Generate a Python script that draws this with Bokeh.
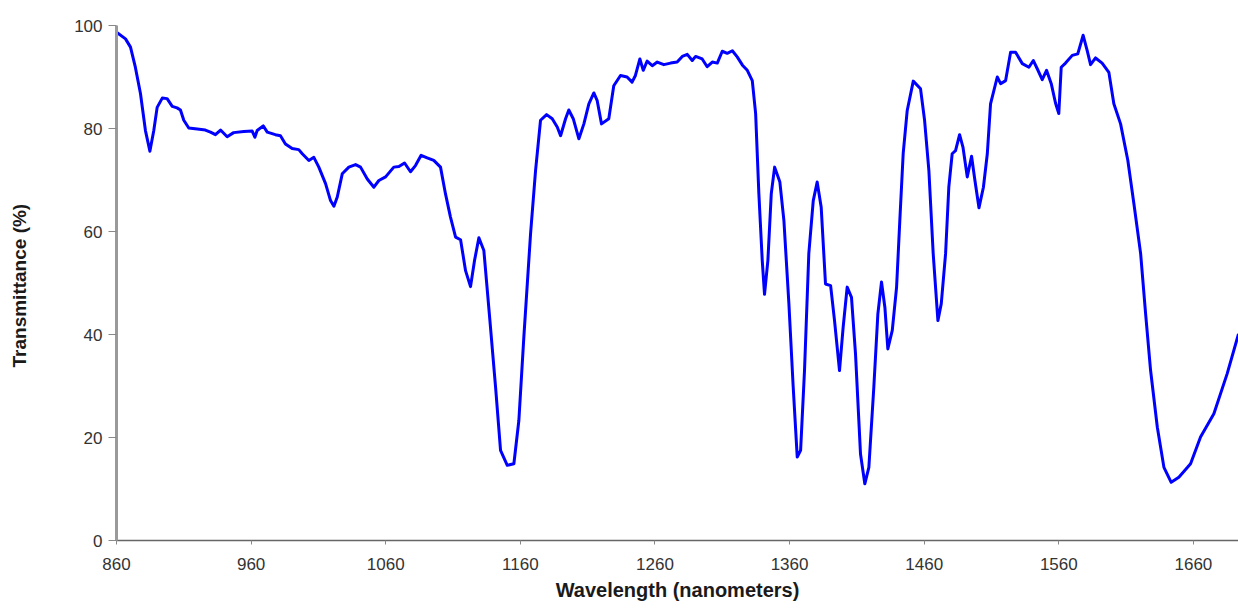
from bokeh.plotting import figure
from bokeh.models import Range1d, FixedTicker
from bokeh.embed import file_html
from bokeh.resources import INLINE

wavelength = [860, 866.7, 870.4, 874, 877.8, 881.5, 884.8, 887.7, 890.2, 894, 897.6, 901.4, 905, 907.5, 910, 913.7, 920, 926, 929.8, 933.5, 937.3, 942.2, 947, 954.6, 960.8, 962.8, 964.5, 969, 972, 978, 981.8, 985.5, 990.5, 995.4, 998, 1002.9, 1006.6, 1010.3, 1015.3, 1019, 1021.5, 1024, 1027.7, 1032.6, 1037.6, 1041.3, 1046.3, 1051.2, 1054.9, 1059.9, 1066, 1069.8, 1074, 1078.4, 1082.1, 1086.3, 1090.8, 1095.7, 1100.7, 1104.4, 1108.1, 1111.9, 1115.6, 1119.3, 1123, 1126, 1129.2, 1132.9, 1137.4, 1141.6, 1145.3, 1150.3, 1155.2, 1158.9, 1162.6, 1167.6, 1171.3, 1175, 1179.5, 1183.7, 1187.4, 1189.9, 1193.6, 1196, 1199.3, 1203.5, 1207.2, 1210.9, 1214.6, 1217.1, 1220.3, 1225.7, 1229.4, 1234.4, 1239.3, 1243, 1245.5, 1248.8, 1251.3, 1254.2, 1258, 1261.7, 1266.6, 1271.6, 1276.5, 1280.3, 1284, 1287.7, 1290.2, 1295.1, 1298.8, 1302.6, 1306.3, 1310, 1313.7, 1317.5, 1321.1, 1325, 1328.6, 1332.3, 1334.8, 1337.2, 1339.7, 1341.4, 1343.9, 1346.4, 1348.9, 1352.8, 1355.8, 1359.5, 1362.7, 1365.7, 1368.2, 1371.1, 1374.3, 1377.6, 1380.5, 1383.5, 1386.7, 1390.5, 1393.4, 1397.1, 1399.8, 1402.8, 1406, 1409, 1412.7, 1415.9, 1418.9, 1422.6, 1425.6, 1428.3, 1430.8, 1433, 1436.3, 1439.5, 1441.9, 1444.4, 1447.4, 1451.9, 1457.3, 1460.3, 1463.5, 1466.7, 1470.2, 1472.7, 1475.9, 1478.3, 1480.8, 1483.3, 1486.3, 1488.8, 1492, 1495.2, 1497.7, 1500.7, 1504, 1506.9, 1509.3, 1514.3, 1516.8, 1520.5, 1524.2, 1527.9, 1532.9, 1537.8, 1541.1, 1544, 1547.7, 1550.9, 1554.4, 1557.6, 1560, 1561.8, 1565, 1570, 1574.1, 1578.1, 1581.1, 1583.6, 1587.3, 1592.2, 1597.2, 1600.9, 1605.9, 1611.3, 1615.8, 1620.8, 1624.5, 1628.2, 1633.2, 1638.1, 1643.5, 1649.2, 1657.9, 1665.3, 1675.2, 1685.1, 1693.5]

transmittance = [98.7, 97.4, 95.8, 91.9, 86.8, 79.6, 75.6, 79.6, 84.1, 85.9, 85.8, 84.3, 84.0, 83.6, 81.6, 80.1, 79.9, 79.7, 79.3, 78.8, 79.7, 78.4, 79.2, 79.4, 79.5, 78.3, 79.6, 80.5, 79.3, 78.8, 78.6, 77.0, 76.1, 75.9, 75.1, 73.8, 74.4, 72.5, 69.3, 66.0, 64.9, 66.7, 71.2, 72.5, 73.0, 72.5, 70.2, 68.6, 69.9, 70.6, 72.5, 72.6, 73.3, 71.6, 72.8, 74.8, 74.3, 73.8, 72.5, 67.3, 62.8, 58.9, 58.4, 52.4, 49.3, 54.4, 58.8, 56.3, 42.7, 29.8, 17.5, 14.6, 14.9, 23.3, 39.5, 59.6, 71.8, 81.6, 82.7, 81.9, 80.3, 78.6, 81.9, 83.6, 81.9, 78.0, 80.9, 84.8, 86.9, 85.4, 80.9, 81.9, 88.3, 90.3, 90.0, 89.0, 90.3, 93.5, 91.3, 93.1, 92.2, 92.9, 92.4, 92.7, 92.9, 94.0, 94.4, 93.2, 94.0, 93.5, 92.0, 92.9, 92.7, 95.0, 94.6, 95.1, 93.9, 92.3, 91.3, 89.3, 82.9, 67.3, 54.4, 47.8, 54.4, 67.3, 72.5, 69.6, 62.1, 46.0, 29.8, 16.2, 17.5, 33.0, 55.7, 66.0, 69.6, 64.7, 49.8, 49.5, 42.7, 33.0, 41.4, 49.2, 47.2, 36.2, 16.8, 11.0, 14.2, 29.8, 44.0, 50.2, 45.3, 37.2, 40.8, 49.2, 62.1, 75.1, 83.5, 89.2, 87.7, 81.6, 71.8, 55.7, 42.7, 46.0, 55.7, 68.6, 75.1, 75.7, 78.8, 76.4, 70.6, 74.6, 69.9, 64.6, 68.6, 75.1, 84.8, 90.0, 88.7, 89.3, 94.8, 94.8, 92.6, 91.9, 93.2, 91.6, 89.5, 91.3, 88.7, 84.9, 82.9, 91.9, 92.7, 94.2, 94.5, 98.1, 95.1, 92.4, 93.7, 92.7, 90.9, 84.8, 80.9, 73.8, 65.4, 55.7, 44.0, 33.0, 22.0, 14.2, 11.3, 12.3, 14.9, 20.1, 24.6, 32.4, 40.1]

x_ticks = [860, 960, 1060, 1160, 1260, 1360, 1460, 1560, 1660]
y_ticks = [0, 20, 40, 60, 80, 100]
x_title = "Wavelength (nanometers)"
y_title = "Transmittance  (%)"

p = figure(width=1238, height=608, output_backend="svg", toolbar_location=None,
           x_range=Range1d(860, 1693.5), y_range=Range1d(0, 100),
           min_border_left=116, min_border_right=0, min_border_top=25, min_border_bottom=68)
p.outline_line_color = None
p.background_fill_color = "white"
p.border_fill_color = "white"
p.xgrid.visible = False
p.ygrid.visible = False

p.line(wavelength, transmittance, line_color="#0000FF", line_width=3, line_join="round")

font = "Liberation Sans"
xa = p.xaxis[0]
xa.ticker = FixedTicker(ticks=x_ticks)
xa.axis_line_color = "#666666"
xa.axis_line_width = 1.5
xa.major_tick_line_color = "#888888"
xa.major_tick_in = 0
xa.major_tick_out = 4
xa.minor_tick_line_color = None
xa.major_label_text_font = font
xa.major_label_text_font_size = "17px"
xa.major_label_text_color = "#333333"
xa.major_label_standoff = 13
xa.axis_label = x_title
xa.axis_label_text_font = font
xa.axis_label_text_font_style = "bold"
xa.axis_label_text_font_size = "20px"
xa.axis_label_text_color = "#1a1a1a"
xa.axis_label_standoff = 6

ya = p.yaxis[0]
ya.ticker = FixedTicker(ticks=y_ticks)
ya.axis_line_color = "#9a9a9a"
ya.axis_line_width = 3
ya.major_tick_line_color = "#888888"
ya.major_tick_in = 0
ya.major_tick_out = 8
ya.minor_tick_line_color = None
ya.major_label_text_font = font
ya.major_label_text_font_size = "17px"
ya.major_label_text_color = "#333333"
ya.major_label_standoff = 6
ya.axis_label = y_title
ya.axis_label_text_font = font
ya.axis_label_text_font_style = "bold"
ya.axis_label_text_font_size = "19px"
ya.axis_label_text_color = "#1a1a1a"
ya.axis_label_standoff = 41

open("out.html", "w").write(file_html(p, INLINE))
